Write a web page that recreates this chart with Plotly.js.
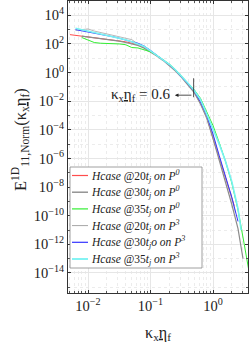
<!DOCTYPE html>
<html><head><meta charset="utf-8">
<script src="https://cdn.plot.ly/plotly-3.0.1.min.js"></script>
<style>html,body{margin:0;padding:0;background:#fff}#plot{width:249px;height:343px}</style>
</head><body><div id="plot"></div>
<script>
// wavenumber kx*eta_f (log10 exponents)
const logK = [-2.29,-2.2,-2.1,-2.0,-1.9,-1.8,-1.7,-1.6,-1.5,-1.4,-1.3,-1.2,-1.1,-1.0,-0.9,-0.8,-0.7,-0.6,-0.5,-0.4,-0.3,-0.2,-0.1,0.0,0.1,0.2,0.3,0.4,0.5,0.56];
// log10 of normalized spectrum for each case (null = no data)
const red20P0   = [2.65,2.6,2.55,2.5,2.45,2.4,2.35,2.3,2.22,2.15,2.05,1.95,1.75,1.5,1.2,0.9,0.55,0.15,-0.3,-0.8,-1.35,-2.15,-3.1,-4.6,-6.0,-7.4,-8.7,null,null,null];
const gray30P0  = [null,null,2.55,2.5,2.4,2.35,2.3,2.25,2.2,2.1,2.0,1.9,1.7,1.45,1.15,0.85,0.5,0.1,-0.35,-0.85,-1.4,-2.2,-3.2,-4.6,-6.1,-7.6,-9.2,-10.9,null,null];
const green35P0 = [null,null,2.45,2.3,2.1,2.05,2.05,2.02,2.0,1.95,1.75,1.72,1.6,1.45,1.2,0.92,0.6,0.2,-0.25,-0.7,-1.2,-1.8,-2.8,-3.7,-4.9,-6.2,-7.7,-9.6,-12.0,-13.5];
const gray20P3  = [null,2.95,3.0,3.05,2.9,2.8,2.65,2.55,2.45,2.4,2.3,2.0,1.8,1.5,1.2,0.9,0.55,0.15,-0.3,-0.8,-1.3,-2.1,-3.1,-4.4,-5.9,-7.3,-8.8,null,null,null];
const blue30P3  = [null,3.0,2.92,2.85,2.78,2.7,2.6,2.5,2.4,2.25,2.15,2.05,1.85,1.55,1.22,0.9,0.55,0.15,-0.3,-0.8,-1.3,-2.05,-3.0,-4.3,-5.8,-7.2,-8.7,-10.4,null,null];
const cyan35P3  = [null,3.1,3.0,2.93,2.85,2.75,2.65,2.55,2.42,2.3,2.15,2.0,1.82,1.52,1.2,0.9,0.58,0.18,-0.27,-0.75,-1.25,-1.9,-2.9,-3.9,-5.0,-6.2,-7.6,-9.5,null,null];
// tail end points (log10 k, log10 E)
const tailEnds = {red:[0.34,-9.3], gray30:[0.48,-13.0], gray20:[0.36,-9.8], blue:[0.4,-10.4], cyan:[0.45,-11.0], green:[0.58,-14.0]};

const names = [
 "<i>Hcase</i> @20<i>t<sub>j</sub> on P<sup>0</sup></i>",
 "<i>Hcase</i> @30<i>t<sub>j</sub> on P<sup>0</sup></i>",
 "<i>Hcase</i> @35<i>t<sub>j</sub> on P<sup>0</sup></i>",
 "<i>Hcase</i> @20<i>t<sub>j</sub> on P<sup>3</sup></i>",
 "<i>Hcase</i> @30<i>t<sub>j</sub>o on P<sup>3</sup></i>",
 "<i>Hcase</i> @35<i>t<sub>j</sub> on P<sup>3</sup></i>"];
const series = [red20P0, gray30P0, green35P0, gray20P3, blue30P3, cyan35P3];
const ends = [tailEnds.red, tailEnds.gray30, tailEnds.green, tailEnds.gray20, tailEnds.blue, tailEnds.cyan];
const colors = ["#ff4d4d","#8c8c8c","#33ee33","#a6a6a6","#3333ff","#77f2f2"];
const widths = [1,1.2,1,0.8,1,1.6];

const traces = series.map((s,i)=>{
  const xs=[], ys=[];
  s.forEach((v,j)=>{ if(v!==null){ xs.push(Math.pow(10,logK[j])); ys.push(Math.pow(10,v)); } });
  const e = ends[i];
  if (Math.pow(10,e[0]) > xs[xs.length-1]) { xs.push(Math.pow(10,e[0])); ys.push(Math.pow(10,e[1])); }
  return {x:xs, y:ys, type:'scatter', mode:'lines', name:names[i], showlegend:false,
          line:{color:colors[i], width:widths[i]}};
});

const xTicks=[0.01,0.1,1], xText=["10<sup>−2</sup>","10<sup>−1</sup>","10<sup>0</sup>"];
const yTicks=[1e4,1e2,1,1e-2,1e-4,1e-6,1e-8,1e-10,1e-12,1e-14];
const yText=["10<sup>4</sup>","10<sup>2</sup>","10<sup>0</sup>","10<sup>−2</sup>","10<sup>−4</sup>","10<sup>−6</sup>","10<sup>−8</sup>","10<sup>−10</sup>","10<sup>−12</sup>","10<sup>−14</sup>"];

// marker annotation (log10 positions for annotations; shapes use raw values)
const markerK = 0.49, markerE = [0.4, 0.019];
const arrowHeadLogK = -0.61, arrowLogE = -1.58, labelRightLogK = -0.66;

const font = {family:"'Liberation Serif','DejaVu Serif',serif", color:'#222'};

// manual legend geometry (paper coords)
const plotL=68, plotW=180, plotB=293, plotH=292;
const px = X => (X-plotL)/plotW, py = Y => (plotB-Y)/plotH;
const legBox = {x0:px(70), x1:px(202), y0:py(268), y1:py(167)};
const shapes = [
  {type:'line',xref:'x',yref:'y',x0:markerK,x1:markerK,y0:markerE[0],y1:markerE[1],line:{color:'#222',width:0.8}},
  {type:'rect',xref:'paper',yref:'paper',x0:legBox.x0,x1:legBox.x1,y0:legBox.y0,y1:legBox.y1,
   line:{color:'#888',width:0.8},fillcolor:'#fff',layer:'above'}
];
const annotations = [
  {xref:'x',yref:'y',x:arrowHeadLogK,y:arrowLogE,ax:18,ay:0,showarrow:true,arrowhead:2,arrowsize:0.9,arrowwidth:0.8,arrowcolor:'#222',text:''},
  {xref:'x',yref:'y',x:labelRightLogK,y:arrowLogE,xanchor:'right',yanchor:'middle',showarrow:false,
   text:"κ<sub>x</sub><u>η</u><sub>f</sub> = 0.6",font:{size:15,family:font.family,color:'#222'}},
  {xref:'paper',yref:'paper',x:px(20),y:py(140),xanchor:'center',yanchor:'middle',textangle:-90,showarrow:false,
   text:"E<sup>1D</sup><sub>11,Norm</sub>(κ<sub>x</sub><u>η</u><sub>f</sub>)",font:{size:16.5,family:font.family,color:'#222'}}
];
names.forEach((n,i)=>{
  const yc = 175.5 + 16.7*i;
  shapes.push({type:'line',xref:'paper',yref:'paper',x0:px(72),x1:px(88),y0:py(yc),y1:py(yc),
               line:{color:colors[i],width:widths[i]+0.2},layer:'above'});
  annotations.push({xref:'paper',yref:'paper',x:px(89),y:py(yc),xanchor:'left',yanchor:'middle',showarrow:false,
                    text:n,font:{size:11.5,family:font.family,color:'#222'}});
});

const layout = {
  width:249, height:343, margin:{l:68,r:1,t:1,b:50},
  paper_bgcolor:'#fff', plot_bgcolor:'#fff', font:font,
  showlegend:false,
  xaxis:{type:'log',range:[-2.32,0.56],tickvals:xTicks,ticktext:xText,tickfont:{size:14.5},
         showline:true,mirror:'ticks',linecolor:'#333',linewidth:1,ticks:'inside',ticklen:3,tickcolor:'#333',
         showgrid:true,gridcolor:'#e6e6e6',zeroline:false,
         minor:{dtick:'D1',ticks:'inside',ticklen:2,tickcolor:'#555',showgrid:true,gridcolor:'#ececec',griddash:'dot'},
         title:{text:"κ<sub>x</sub><u>η</u><sub>f</sub>",font:{size:16},standoff:13}},
  yaxis:{type:'log',range:[-15.4,5],tickvals:yTicks,ticktext:yText,tickfont:{size:14.5},
         showline:true,mirror:'ticks',linecolor:'#333',linewidth:1,ticks:'inside',ticklen:3,tickcolor:'#333',
         showgrid:true,gridcolor:'#e6e6e6',zeroline:false,
         minor:{dtick:1,ticks:'inside',ticklen:2,tickcolor:'#555',showgrid:true,gridcolor:'#ececec',griddash:'dot'}},
  shapes:shapes, annotations:annotations
};
Plotly.newPlot('plot',traces,layout,{displayModeBar:false,staticPlot:true});
</script></body></html>
